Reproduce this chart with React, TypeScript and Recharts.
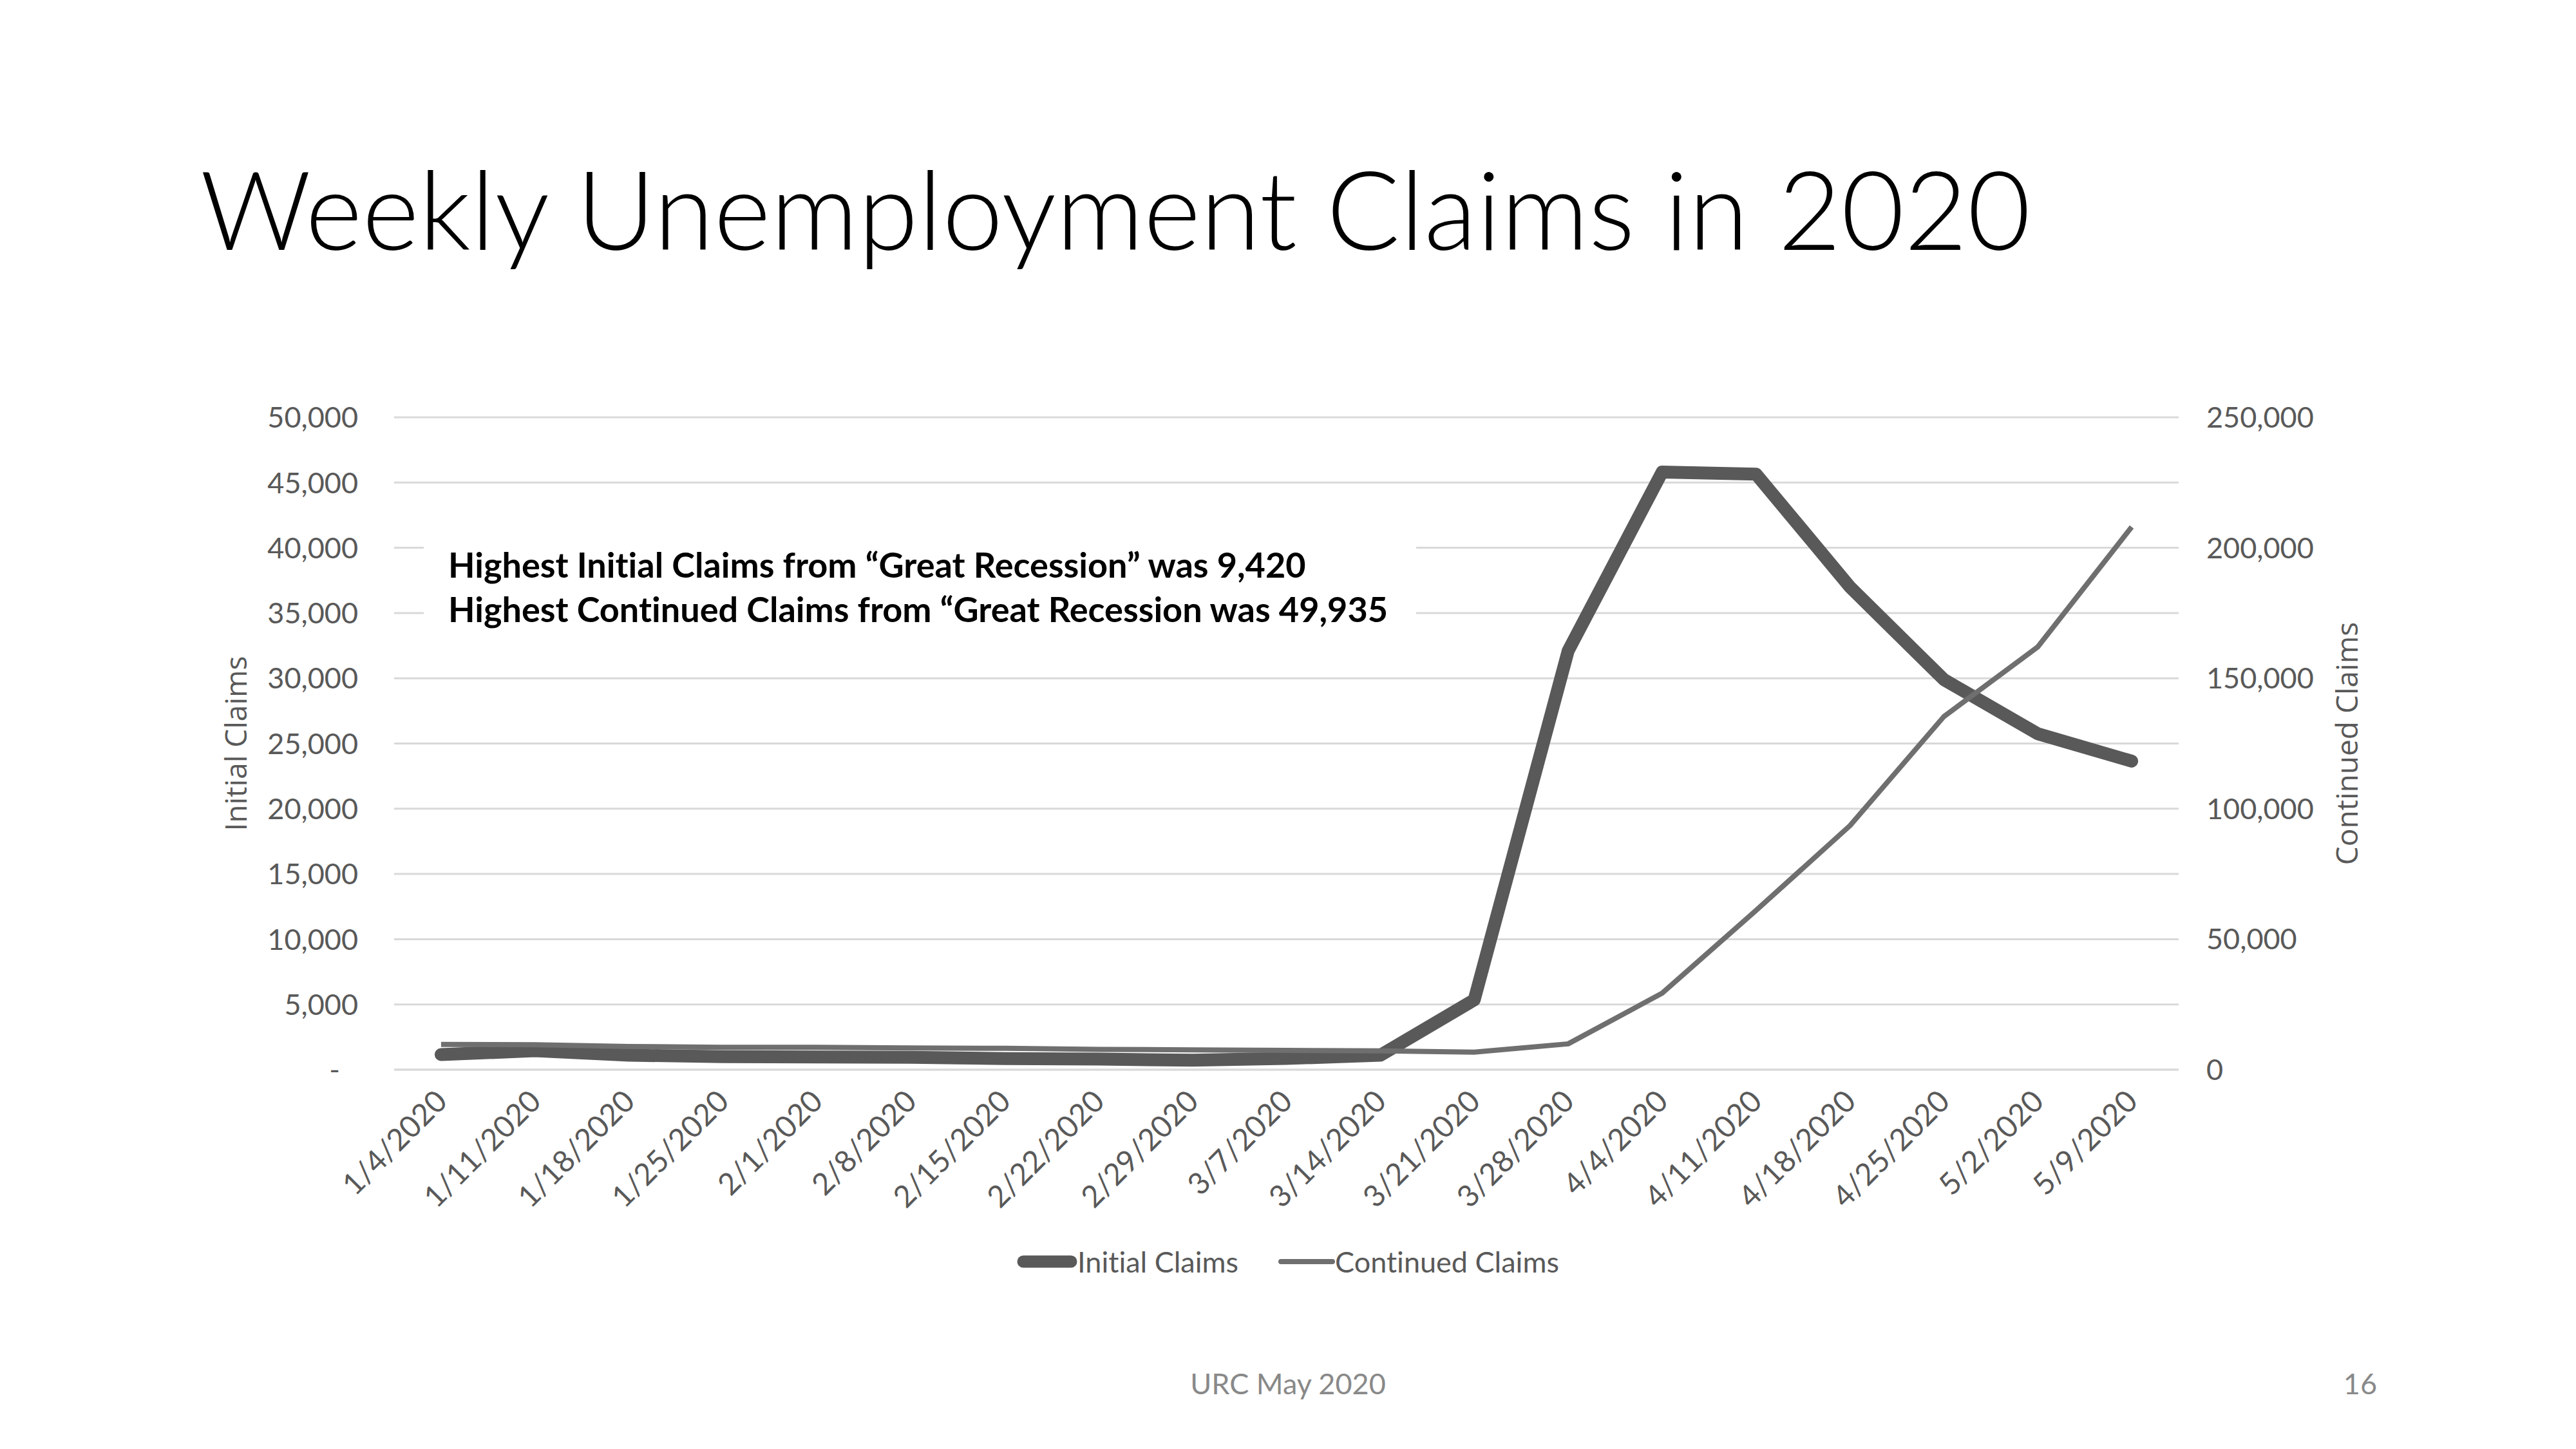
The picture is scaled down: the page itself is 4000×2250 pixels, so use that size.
import { CartesianGrid, Legend, Line, LineChart, XAxis, YAxis } from "recharts";

const dates = [
  "1/4/2020", "1/11/2020", "1/18/2020", "1/25/2020", "2/1/2020", "2/8/2020",
  "2/15/2020", "2/22/2020", "2/29/2020", "3/7/2020", "3/14/2020", "3/21/2020",
  "3/28/2020", "4/4/2020", "4/11/2020", "4/18/2020", "4/25/2020", "5/2/2020",
  "5/9/2020",
];
const initialClaims = [
  1160, 1450, 1110, 1000, 980, 950, 850, 810, 730, 860, 1110, 5350, 32100,
  45800, 45650, 37000, 29900, 25750, 23650,
];
const continuedClaims = [
  9700, 9550, 8900, 8600, 8600, 8300, 8200, 7800, 7600, 7400, 7200, 6700, 9900,
  29300, 61000, 93500, 135300, 162000, 208000,
];
const leftTicks = [0, 5000, 10000, 15000, 20000, 25000, 30000, 35000, 40000, 45000, 50000];
const rightTicks = [0, 50000, 100000, 150000, 200000, 250000];

const TEXT = "#595959";
const FONT = "Lato, 'Open Sans', sans-serif";

const data = dates.map((date, i) => ({
  date,
  initial: initialClaims[i],
  continued: continuedClaims[i],
}));

const fmt = (v: number) => v.toLocaleString("en-US");

function LeftTick({ x, y, payload }: any) {
  const zero = payload.value === 0;
  return (
    <text
      x={zero ? x - 28 : x}
      y={y}
      dy="0.36em"
      textAnchor="end"
      fill={TEXT}
      fontSize={45}
      fontFamily={FONT}
    >
      {zero ? "-" : fmt(payload.value)}
    </text>
  );
}

function DateTick({ x, y, payload }: any) {
  return (
    <g transform={`translate(${x + 12},${y + 52})`}>
      <text
        textAnchor="end"
        transform="rotate(-45)"
        fill={TEXT}
        fontSize={47}
        fontFamily={FONT}
      >
        {payload.value}
      </text>
    </g>
  );
}

function AxisTitle({ viewBox, value, dx }: any) {
  const cx = viewBox.x + dx;
  const cy = viewBox.y + viewBox.height / 2;
  return (
    <text
      x={cx}
      y={cy}
      transform={`rotate(-90, ${cx}, ${cy})`}
      textAnchor="middle"
      dominantBaseline="central"
      fill={TEXT}
      fontSize={46}
      fontFamily="'Open Sans', sans-serif"
    >
      {value}
    </text>
  );
}

function LegendBox() {
  return (
    <div
      style={{
        display: "flex",
        justifyContent: "center",
        alignItems: "center",
        height: 80,
        fontFamily: FONT,
        fontSize: 45,
        color: TEXT,
      }}
    >
      <svg width={94} height={24}>
        <line x1={10} y1={12} x2={84} y2={12} stroke="#595959" strokeWidth={19} strokeLinecap="round" />
      </svg>
      <span style={{ marginRight: 62 }}>Initial Claims</span>
      <svg width={88} height={24}>
        <line x1={4} y1={12} x2={84} y2={12} stroke="#6f6f6f" strokeWidth={8} strokeLinecap="round" />
      </svg>
      <span>Continued Claims</span>
    </div>
  );
}

export default function App() {
  return (
    <div
      style={{
        position: "relative",
        width: 4000,
        height: 2250,
        background: "#fff",
        fontFamily: FONT,
        fontVariantLigatures: "none",
      }}
    >
      <style>{"body{margin:0}"}</style>
      <LineChart
        width={4000}
        height={2250}
        data={data}
        margin={{ top: 648, right: 0, bottom: 251, left: 0 }}
      >
        <CartesianGrid yAxisId="left" vertical={false} stroke="#d9d9d9" strokeWidth={3} />
        <XAxis
          dataKey="date"
          scale="band"
          interval={0}
          height={258}
          tickLine={false}
          axisLine={{ stroke: "#d9d9d9", strokeWidth: 3 }}
          tickSize={0}
          tickMargin={0}
          tick={(p: any) => <DateTick {...p} />}
        />
        <YAxis
          yAxisId="left"
          orientation="left"
          width={612}
          domain={[0, 50000]}
          ticks={leftTicks}
          interval={0}
          axisLine={false}
          tickLine={false}
          tickSize={0}
          tickMargin={56}
          tick={(p: any) => <LeftTick {...p} />}
          label={{ content: (p: any) => <AxisTitle {...p} value="Initial Claims" dx={365} /> }}
        />
        <YAxis
          yAxisId="right"
          orientation="right"
          width={617}
          domain={[0, 250000]}
          ticks={rightTicks}
          interval={0}
          axisLine={false}
          tickLine={false}
          tickSize={0}
          tickMargin={43}
          tickFormatter={fmt}
          tick={{ fill: TEXT, fontSize: 45, fontFamily: FONT }}
          label={{ content: (p: any) => <AxisTitle {...p} value="Continued Claims" dx={260} /> }}
        />
        <Legend verticalAlign="bottom" height={80} content={() => <LegendBox />} />
        <Line
          yAxisId="left"
          type="linear"
          dataKey="initial"
          name="Initial Claims"
          stroke="#595959"
          strokeWidth={20}
          strokeLinecap="round"
          strokeLinejoin="round"
          dot={false}
          activeDot={false}
          isAnimationActive={false}
        />
        <Line
          yAxisId="right"
          type="linear"
          dataKey="continued"
          name="Continued Claims"
          stroke="#6f6f6f"
          strokeWidth={8}
          strokeLinejoin="round"
          dot={false}
          activeDot={false}
          isAnimationActive={false}
        />
      </LineChart>
      <svg
        width={4000}
        height={2250}
        style={{ position: "absolute", left: 0, top: 0, pointerEvents: "none" }}
      >
        <text x={311} y={388} fontSize={169} fontWeight={300} fontFamily={FONT} fill="#000">
          Weekly Unemployment Claims in 2020
        </text>
        <rect x={658} y={820} width={1541} height={180} fill="#fff" />
        <text x={696} y={897} fontSize={54} fontWeight={700} fontFamily={FONT} fill="#000">
          Highest Initial Claims from “Great Recession” was 9,420
        </text>
        <text x={696} y={966} fontSize={54} fontWeight={700} fontFamily={FONT} fill="#000">
          Highest Continued Claims from “Great Recession was 49,935
        </text>
        <text x={2000} y={2165} textAnchor="middle" fontSize={45} fontFamily={FONT} fill="#898989">
          URC May 2020
        </text>
        <text x={3691} y={2165} textAnchor="end" fontSize={45} fontFamily={FONT} fill="#898989">
          16
        </text>
      </svg>
    </div>
  );
}
